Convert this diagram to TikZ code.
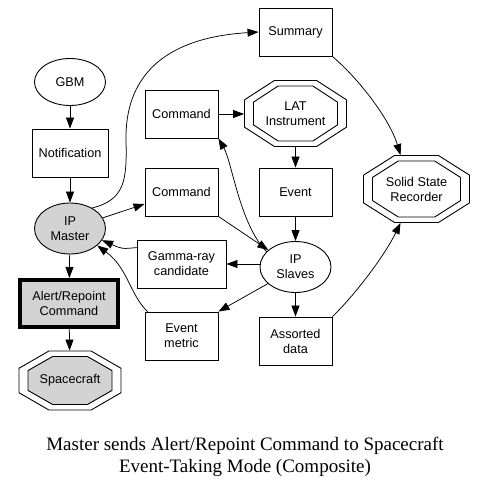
\documentclass[tikz,border=0pt]{standalone}
\usepackage{fontspec}
\setmainfont{Liberation Serif}
\newfontfamily\nodefont{Liberation Sans}
\usetikzlibrary{arrows.meta,shapes.geometric,calc,backgrounds}
\definecolor{fillgray}{RGB}{211,211,211}
\newcommand\myoct[4][]{%
  \draw[line width=0.9pt,#1] ($(#2)+(-#3/2,-0.207*#4)$) -- ($(#2)+(-0.207*#3,-#4/2)$) -- ($(#2)+(0.207*#3,-#4/2)$) -- ($(#2)+(#3/2,-0.207*#4)$) -- ($(#2)+(#3/2,0.207*#4)$) -- ($(#2)+(0.207*#3,#4/2)$) -- ($(#2)+(-0.207*#3,#4/2)$) -- ($(#2)+(-#3/2,0.207*#4)$) -- cycle;}
\tikzset{
  base/.style={font=\nodefont\fontsize{12.7}{15}\selectfont, align=center, inner sep=0pt, line width=0.9pt},
  box/.style={base, draw, rectangle, minimum width=73pt, minimum height=48pt},
  ell/.style={base, draw, ellipse, minimum width=71pt, minimum height=51pt},
  octa/.style={base, rectangle},
  arr/.style={-{Triangle[length=11pt,width=8pt]}, line width=0.75pt},
}
\begin{document}
\begin{tikzpicture}[x=1pt,y=-1pt]
\path[use as bounding box] (0,0) rectangle (487,488);
% nodes
\node[ell, minimum height=47pt] (gbm) at (70,82) {GBM};
\node[box, minimum width=76pt] (notif) at (70,153) {Notification};
\node[ell, fill=fillgray] (m) at (70,228.5) {IP\\Master};
\node[box] (c1) at (181.5,114) {Command};
\node[box] (c2) at (181.5,192) {Command};
\node[box] (sum) at (295.5,32) {Summary};
\node[octa, minimum width=102pt, minimum height=66pt] (lat) at (295.5,113.5) {LAT\\Instrument};
\node[box] (ev) at (295.5,192) {Event};
\node[octa, minimum width=106pt, minimum height=67pt] (ssr) at (416.5,189) {Solid State\\Recorder};
\node[ell] (sl) at (295.5,267) {IP\\Slaves};
\node[box] (ad) at (295.5,341) {Assorted\\data};
\node[box, minimum width=89pt] (g) at (181.5,264) {Gamma-ray\\candidate};
\node[box] (em) at (181.5,336) {Event\\metric};
\node[base, draw, fill=fillgray, line width=4pt, minimum width=98pt, minimum height=47pt] (ar) at (69,303.5) {Alert/Repoint\\Command};
\node[octa, minimum width=102pt, minimum height=59pt] (sc) at (70,380.5) {Spacecraft};
\node[font=\fontsize{19}{22}\selectfont, align=center, inner sep=0pt, anchor=north] (cap) at (245,437) {Master sends Alert/Repoint Command to Spacecraft\\Event-Taking Mode (Composite)};
% octagons
\begin{scope}[on background layer]
\myoct[fill=white]{lat}{102}{66}
\myoct{lat}{84}{55}
\myoct[fill=white]{ssr}{106}{67}
\myoct{ssr}{88}{56}
\myoct[fill=white]{sc}{102}{59}
\myoct[fill=fillgray]{sc}{84}{48}
\end{scope}
% edges
\draw[arr] (gbm) -- (notif);
\draw[arr] (notif) -- (m);
\draw[arr] (m) -- (ar);
\draw[arr] (ar) -- (sc);
\draw[arr] (m.18) -- ($(c2.west)+(0,12)$);
\draw[arr] (m.43) .. controls (125,200) and (127,180) .. (126,140) .. controls (125,80) and (160,38) .. (sum.west);
\draw[arr] (c1.east) -- (c1.east -| lat.west);
\draw[arr] (lat) -- (ev);
\draw[arr] (ev) -- (sl);
\draw[arr] (sl) -- (ad);
\draw[arr] (sum.south east) .. controls (360,80) and (390,120) .. ($(ssr.north)+(-16,0)$);
\draw[arr] (ad.north east) .. controls (355,295) and (385,255) .. ($(ssr.south)+(-16,0)$);
\draw[arr] (sl.152) .. controls (240,225) and (232,162) .. (c1.south east);
\draw[arr] (c2.south east) -- (sl.148);
\draw[arr] (sl.west |- g.east) -- (g.east);
\draw[arr] (sl.211) -- (em.north east);
\draw[arr] ($(g.north west)+(0,8)$) .. controls (122,249) .. (m.-20);
\draw[arr] ($(em.north west)+(3,0)$) .. controls (130,295) and (128,268) .. (m.-32);
\end{tikzpicture}
\end{document}
